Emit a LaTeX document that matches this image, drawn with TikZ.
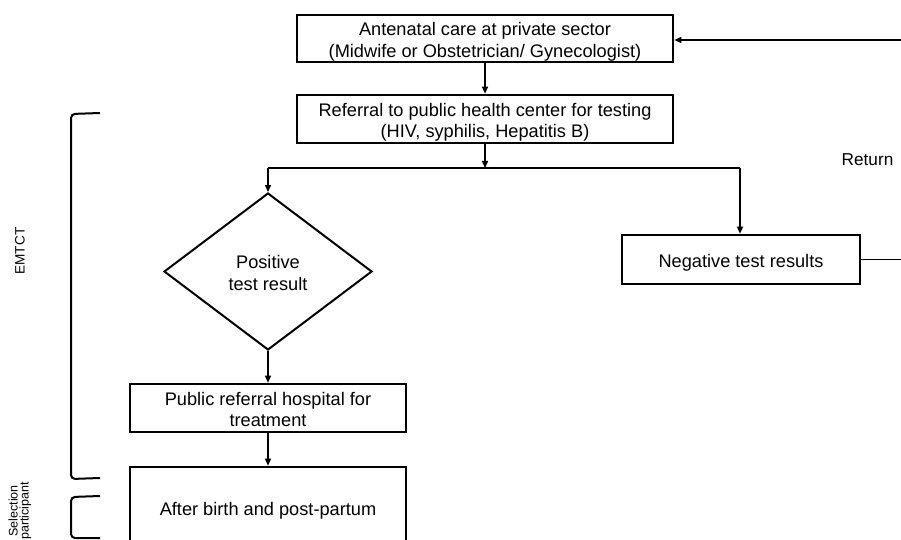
\documentclass[tikz,border=0pt]{standalone}
\usepackage{fontspec}
\setmainfont{Liberation Sans}
\usetikzlibrary{shapes.geometric,arrows.meta}
\newcommand\lowtext[1]{\raisebox{-3.5pt}[\height][\depth]{\renewcommand\arraystretch{1}\begin{tabular}{@{}c@{}}#1\end{tabular}}}
\begin{document}
\begin{tikzpicture}[x=1pt,y=-1pt,
  box/.style={draw,line width=2.6pt,rectangle,inner sep=0pt,
    font=\fontsize{18.2}{21.5}\selectfont},
  dia/.style={draw,line width=2pt,diamond,inner sep=0pt,
    font=\fontsize{18.2}{22}\selectfont},
  conn/.style={line width=1.4pt,-{Triangle[length=7pt,width=6pt]}},
  plain/.style={line width=1.4pt},
  brack/.style={line width=2pt,rounded corners=4pt},
  side/.style={rotate=90,align=center,inner sep=0pt}]
\useasboundingbox (0,0) rectangle (901,540);
\clip (0,0) rectangle (901,540);

\node[box,minimum width=376pt,minimum height=47pt] (care) at (485,38.5)
  {\lowtext{Antenatal care at private sector\\(Midwife or Obstetrician/ Gynecologist)}};
\node[box,minimum width=376pt,minimum height=48pt] (ref) at (485,119)
  {\lowtext{Referral to public health center for testing\\(HIV, syphilis, Hepatitis B)}};
\node[dia,minimum width=208pt,minimum height=157pt] (pos) at (268,271.5)
  {\lowtext{Positive\\test result}};
\node[box,minimum width=238pt,minimum height=49pt] (neg) at (741,259.5)
  {\lowtext{Negative test results}};
\node[box,minimum width=276pt,minimum height=48pt] (pub) at (268,408)
  {\lowtext{Public referral hospital for\\treatment}};
\node[box,minimum width=276pt,minimum height=82pt] (aft) at (268,508)
  {\lowtext{After birth and post-partum}};

\node[anchor=base,inner sep=0pt,font=\fontsize{17.2}{20}\selectfont] (ret) at (867.5,166) {Return};

\coordinate (split) at (485,168);
\coordinate (sl) at (268,168);
\coordinate (sr) at (740,168);
\coordinate (retin) at (915,40);
\coordinate (retout) at (915,260);

\draw[conn] (care) -- (ref);
\draw[conn] (ref) -- (split);
\draw[plain] (sl) -- (sr);
\draw[conn] (sl) -- (pos.north);
\draw[conn] (sr) -- (sr |- neg.north);
\draw[conn] (pos) -- (pub);
\draw[conn] (pub) -- (aft);
\draw[plain] (neg.east) -- (neg.east -| retout);
\draw[conn] (retin) -- (care.east |- retin);

\coordinate (b1a) at (100,113);
\coordinate (b1b) at (71,114);
\coordinate (b1c) at (71,479);
\coordinate (b1d) at (100,478);
\draw[brack] (b1a) -- (b1b) -- (b1c) -- (b1d);
\coordinate (b2a) at (100,496);
\coordinate (b2b) at (71,497);
\coordinate (b2c) at (71,538);
\coordinate (b2d) at (100,538);
\draw[brack] (b2a) -- (b2b) -- (b2c) -- (b2d);

\node[side,font=\fontsize{13.6}{14}\selectfont] (emtct) at (20,251) {EMTCT};
\node[side,font=\fontsize{12.5}{11}\selectfont] (sel) at (20,511) {Selection\\participant};
\end{tikzpicture}
\end{document}
